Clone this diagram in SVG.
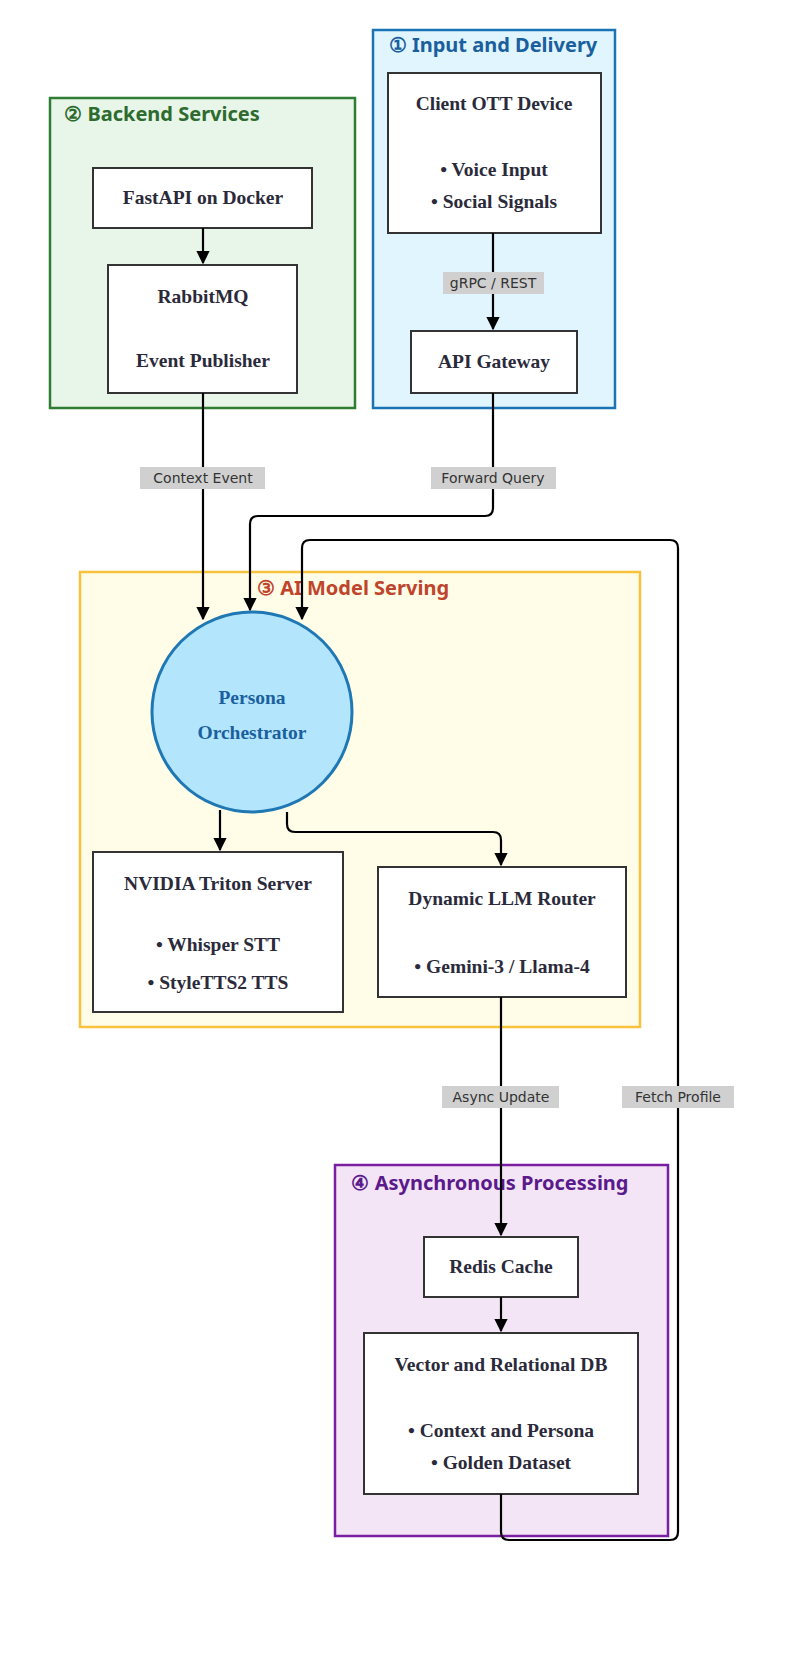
<svg xmlns="http://www.w3.org/2000/svg" width="800" height="1677" viewBox="0 0 800 1677">
<style>
.n{fill:#fff;stroke:#333;stroke-width:2}
.t{font-family:"Liberation Serif",serif;font-weight:bold;font-size:19.5px;fill:#2a2a3a;text-anchor:middle}
.ct{font-family:"Noto Sans",sans-serif;font-weight:bold;font-size:20px;text-anchor:middle}
.e{fill:none;stroke:#000;stroke-width:2.2}
.lb{fill:#d0d0d0}
.lt{font-family:"DejaVu Sans",sans-serif;font-size:14px;fill:#333;text-anchor:middle}
</style>
<defs><marker id="a" viewBox="0 0 10 10" refX="9" refY="5" markerWidth="6" markerHeight="6" orient="auto"><path d="M0,0L10,5L0,10z" fill="#000"/></marker></defs>
<rect width="800" height="1677" fill="#fff"/>
<g id="c1"><rect x="373" y="30" width="242" height="378" fill="#e1f5fe" stroke="#1a73b5" stroke-width="2.5"/><text x="493" y="52" class="ct" fill="#1a5f9e">① Input and Delivery</text></g>
<g id="c2"><rect x="50" y="98" width="305" height="310" fill="#e8f5e9" stroke="#2e7d32" stroke-width="2.5"/><text x="162" y="121" class="ct" fill="#2e6b2e">② Backend Services</text></g>
<g id="c3"><rect x="80" y="572" width="560" height="455" fill="#fffde7" stroke="#f9c23c" stroke-width="2.5"/><text x="353" y="595" class="ct" fill="#c0442b">③ AI Model Serving</text></g>
<g id="c4"><rect x="335" y="1165" width="333" height="371" fill="#f3e5f5" stroke="#7b1fa2" stroke-width="2.5"/><text x="490" y="1190" class="ct" fill="#5a1a8c">④ Asynchronous Processing</text></g>
<g id="client"><rect class="n" x="388" y="73" width="213" height="160"/><text class="t" x="494" y="110">Client OTT Device</text><text class="t" x="494" y="176">• Voice Input</text><text class="t" x="494" y="208">• Social Signals</text></g>
<g id="api"><rect class="n" x="411" y="331" width="166" height="62"/><text class="t" x="494" y="368">API Gateway</text></g>
<g id="fastapi"><rect class="n" x="93" y="168" width="219" height="60"/><text class="t" x="203" y="204">FastAPI on Docker</text></g>
<g id="rabbit"><rect class="n" x="108" y="265" width="189" height="128"/><text class="t" x="203" y="303">RabbitMQ</text><text class="t" x="203" y="367">Event Publisher</text></g>
<g id="persona"><circle cx="252" cy="712" r="100" fill="#b3e5fc" stroke="#1f78b4" stroke-width="3"/><text class="t" x="252" y="704" style="fill:#1a5f9e">Persona</text><text class="t" x="252" y="739" style="fill:#1a5f9e">Orchestrator</text></g>
<g id="triton"><rect class="n" x="93" y="852" width="250" height="160"/><text class="t" x="218" y="890">NVIDIA Triton Server</text><text class="t" x="218" y="951">• Whisper STT</text><text class="t" x="218" y="989">• StyleTTS2 TTS</text></g>
<g id="llm"><rect class="n" x="378" y="867" width="248" height="130"/><text class="t" x="502" y="905">Dynamic LLM Router</text><text class="t" x="502" y="973">• Gemini-3 / Llama-4</text></g>
<g id="redis"><rect class="n" x="424" y="1237" width="154" height="60"/><text class="t" x="501" y="1273">Redis Cache</text></g>
<g id="vdb"><rect class="n" x="364" y="1333" width="274" height="161"/><text class="t" x="501" y="1371">Vector and Relational DB</text><text class="t" x="501" y="1437">• Context and Persona</text><text class="t" x="501" y="1469">• Golden Dataset</text></g>
<g id="edges">
<path class="e" d="M203,228V263" marker-end="url(#a)"/>
<path class="e" d="M493,233V329" marker-end="url(#a)"/>
<path class="e" d="M203,393V619" marker-end="url(#a)"/>
<path class="e" d="M493,393V508Q493,516 485,516H258Q250,516 250,524V610" marker-end="url(#a)"/>
<path class="e" d="M220,810V850" marker-end="url(#a)"/>
<path class="e" d="M287,812V824Q287,832 295,832H493Q501,832 501,840V865" marker-end="url(#a)"/>
<path class="e" d="M501,997V1235" marker-end="url(#a)"/>
<path class="e" d="M501,1297V1331" marker-end="url(#a)"/>
<path class="e" d="M501,1494V1532Q501,1540 509,1540H670Q678,1540 678,1532V548Q678,540 670,540H310Q302,540 302,548V619" marker-end="url(#a)"/>
<rect class="lb" x="443" y="272" width="101" height="22"/><text class="lt" x="493" y="288">gRPC / REST</text>
<rect class="lb" x="140" y="467" width="125" height="22"/><text class="lt" x="203" y="483">Context Event</text>
<rect class="lb" x="431" y="467" width="125" height="22"/><text class="lt" x="493" y="483">Forward Query</text>
<rect class="lb" x="442" y="1086" width="117" height="22"/><text class="lt" x="501" y="1102">Async Update</text>
<rect class="lb" x="622" y="1086" width="112" height="22"/><text class="lt" x="678" y="1102">Fetch Profile</text>
</g>
</svg>
